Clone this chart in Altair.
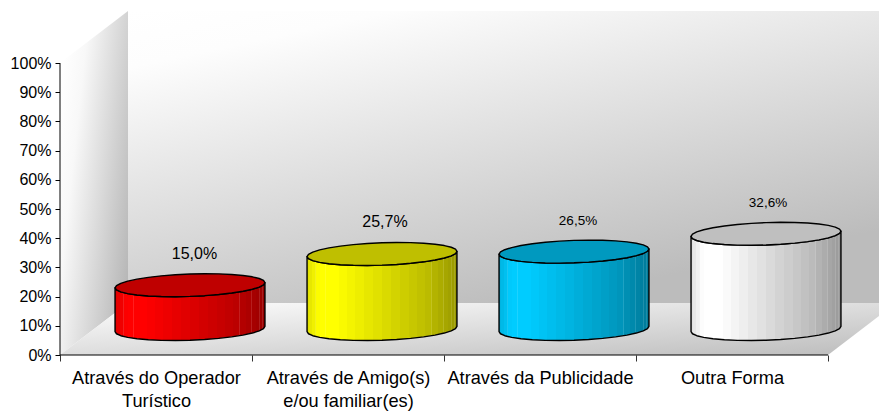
import math
import altair as alt
import pandas as pd

categories = ["Através do Operador|Turístico", "Através de Amigo(s)|e/ou familiar(es)",
              "Através da Publicidade", "Outra Forma"]
values = [15.0, 25.7, 26.5, 32.6]
value_labels = ["15,0%", "25,7%", "26,5%", "32,6%"]
y_ticks = list(range(0, 101, 10))
x_ticks = [0, 0.5, 1, 1.5, 2, 2.5, 3, 3.5, 4]
colors = ["#ff0000", "#ffff00", "#00ccff", "#ffffff"]
top_colors = ["#bf0000", "#bfbf00", "#0099bf", "#bfbfbf"]
FONT = "Liberation Sans"

# pixels per unit of the two scales
PX_X, PX_Y = 192.0, 2.92
DEPTH_X, DEPTH_Y = 68 / PX_X, 52 / PX_Y
X_MAX, Y_MAX = 819 / PX_X, 344 / PX_Y

x_scale = alt.Scale(domain=[0, X_MAX], nice=False, zero=False)
y_scale = alt.Scale(domain=[0, Y_MAX], nice=False, zero=False)

# --- axes ------------------------------------------------------------------
y_axis = alt.Axis(values=y_ticks, labelExpr="datum.value + '%'", domain=False, grid=False,
                  tickSize=5, tickColor="#000000", labelFont=FONT, labelFontSize=16,
                  labelColor="#000000", labelPadding=4, title=None)
label_map = ",".join(
    f"'{i + 0.5}':[" + ",".join(f"'{p}'" for p in c.split("|")) + "]"
    for i, c in enumerate(categories))
x_axis = alt.Axis(values=x_ticks,
                  labelExpr="({" + label_map + "})[datum.value] || ''",
                  domain=False, grid=False, tickSize=6, tickColor="#333333",
                  tickOpacity={"condition": {"test": "datum.value % 1 != 0", "value": 0}, "value": 1},
                  labelFont=FONT, labelFontSize=18.2, labelColor="#000000", labelPadding=8.5,
                  labelLineHeight=23, labelAngle=0, labelOverlap=False, labelBound=False,
                  labelFlush=False, labelLimit=400, title=None)


def X(field="x"):
    return alt.X(f"{field}:Q", scale=x_scale, axis=x_axis, title=None)


def Y(field="y"):
    return alt.Y(f"{field}:Q", scale=y_scale, axis=y_axis, title=None)


def grad(stops, x1=0, y1=0, x2=1, y2=1):
    return {"gradient": "linear", "x1": x1, "y1": y1, "x2": x2, "y2": y2,
            "stops": [{"offset": o, "color": c} for o, c in stops]}


# --- walls and floor -------------------------------------------------------
left_wall = alt.Chart(pd.DataFrame({
    "x": [0, DEPTH_X], "y": [0, DEPTH_Y], "y2": [100, 100 + DEPTH_Y]})).mark_area(
    color=grad([(0, "#ffffff"), (0.25, "#f8f8f8"), (1, "#b8b8b8")], 0, 0.2, 1, 0.75)
).encode(x=X(), y=Y(), y2="y2:Q")

back_wall = alt.Chart(pd.DataFrame({
    "x": [DEPTH_X, X_MAX], "y": [DEPTH_Y, DEPTH_Y], "y2": [Y_MAX, Y_MAX]})).mark_area(
    color=grad([(0, "#ffffff"), (0.15, "#fdfdfd"), (1, "#bcbcbc")], 0, 0, 0.55, 1)
).encode(x=X(), y=Y(), y2="y2:Q")

floor = alt.Chart(pd.DataFrame({
    "y": [0, DEPTH_Y], "x": [0, DEPTH_X], "x2": [4, 4 + DEPTH_X]})).mark_area(
    orient="horizontal", clip=True,
    color=grad([(0, "#ffffff"), (1, "#bcbcbc")], 0, 0, 1, 1)
).encode(y=Y(), x=X(), x2="x2:Q")

v_line = alt.Chart(pd.DataFrame({"x": [0], "y": [0], "y2": [100]})).mark_rule(
    color="#000000", strokeWidth=1).encode(x=X(), y=Y(), y2="y2:Q")
h_line = alt.Chart(pd.DataFrame({"x": [0], "x2": [4], "y": [0]})).mark_rule(
    color="#000000", strokeWidth=1).encode(x=X(), x2="x2:Q", y=Y())

# --- cylinders -------------------------------------------------------------
A, B, D = 73 / PX_X, 17 / PX_X, 11.5 / PX_Y
R = math.hypot(A, B)
PHI = math.atan2(B, A)
N = 16
BASE = DEPTH_Y / 2
THETAS = [math.pi - math.pi * i / N for i in range(N + 1)]


def shade(u):
    pts = [(0, .87), (.08, 1.0), (.2, 1.0), (.5, .87), (.8, .74), (1, .6)]
    for (a, va), (b, vb) in zip(pts, pts[1:]):
        if u <= b:
            return va + (vb - va) * (u - a) / (b - a)
    return pts[-1][1]


SEAMS = {3, 5, 9, 18, 20, 21, 22, 23, 24}


def band_stops(col):
    r, g, b = int(col[1:3], 16), int(col[3:5], 16), int(col[5:7], 16)

    def mix(s, w=0.0):
        return "#%02x%02x%02x" % tuple(
            min(255, int(ch * s + (255 - ch * s) * w)) for ch in (r, g, b))

    stops = []
    nb = 26
    us = [(1 - math.cos(math.pi * i / nb)) / 2 for i in range(nb + 1)]
    for i in range(nb):
        u0, u1 = us[i], us[i + 1]
        s = shade((u0 + u1) / 2)
        if i in SEAMS:
            stops += [(u0, mix(s)), (u1 - 0.005, mix(s)),
                      (u1 - 0.005, mix(s, 0.12)), (u1, mix(s, 0.12))]
        else:
            stops += [(u0, mix(s)), (u1, mix(s))]
    return stops


cylinders = []
for i, (v, col, top) in enumerate(zip(values, colors, top_colors)):
    cx = i + 0.5 + DEPTH_X / 2
    xs = [cx + R * math.cos(t) for t in THETAS]
    up = [D * math.sin(t + PHI) for t in THETAS]
    low = [D * math.sin(PHI - t) for t in THETAS]
    body = pd.DataFrame({"x": xs, "y": [BASE + l for l in low], "y2": [BASE + v + l for l in low]})
    lid = pd.DataFrame({"x": xs, "y": [BASE + v + l for l in low], "y2": [BASE + v + u for u in up]})
    cylinders.append(alt.Chart(body).mark_area(
        color=grad(band_stops(col), 0, 0, 1, 0), stroke="#000000", strokeWidth=1.4,
        strokeJoin="round").encode(x=X(), y=Y(), y2="y2:Q"))
    cylinders.append(alt.Chart(lid).mark_area(
        color=top, stroke="#000000", strokeWidth=1.4,
        strokeJoin="round").encode(x=X(), y=Y(), y2="y2:Q"))

# --- value labels ----------------------------------------------------------
lab = pd.DataFrame({"x": [i + 0.5 + DEPTH_X / 2 for i in range(4)],
                    "y": [BASE + v for v in values], "t": value_labels})
value_texts = [
    alt.Chart(lab.iloc[[i]]).mark_text(
        font=FONT, fontSize=fs, color="#000000", dx=ox, dy=oy, baseline="middle"
    ).encode(x=X(), y=Y(), text="t:N")
    for i, (fs, ox, oy) in enumerate([(16, 4.5, -31), (16, 3, -32), (13.5, 4, -31), (13.5, 2, -31)])
]

chart = alt.layer(left_wall, back_wall, floor, v_line, h_line, *cylinders, *value_texts
                  ).properties(
    width=819, height=344,
    padding={"left": 52, "top": 3, "right": 0, "bottom": 57},
    autosize=alt.AutoSizeParams(type="none"),
    background="#ffffff",
).configure_view(stroke=None)

chart.save("out.html", embed_options={"renderer": "svg", "actions": False})
